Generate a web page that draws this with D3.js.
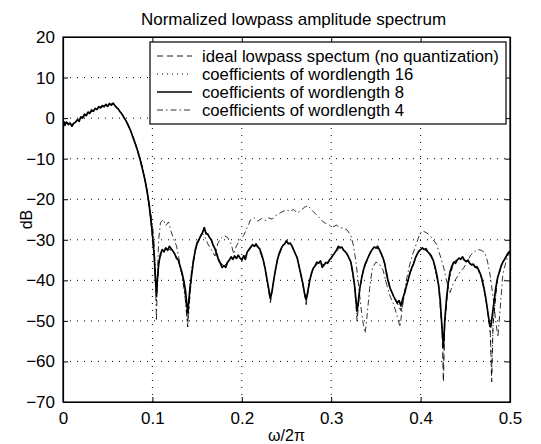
<!DOCTYPE html>
<html>
<head>
<meta charset="utf-8">
<script src="https://cdn.jsdelivr.net/npm/d3@7"></script>
<style>
body { margin: 0; background: #fff; }
text { font-family: "Liberation Sans", Arial, sans-serif; fill: #000; }
</style>
</head>
<body>
<svg id="chart"></svg>
<script>
// values: [omega/2pi, dB]
var wl8 = [
[0,-0.6],[0.002,-1.8],[0.004,-1.0],[0.006,-1.6],[0.008,-1.2],[0.010,-2.0],[0.012,-1.3],[0.014,-1.0],
[0.016,-0.4],[0.018,-0.8],[0.020,0.3],[0.022,0.0],[0.024,1.0],[0.026,0.6],[0.028,1.5],[0.030,1.2],
[0.032,2.0],[0.034,1.7],[0.036,2.4],[0.038,2.1],[0.040,2.8],[0.042,2.5],[0.044,3.1],[0.046,2.8],
[0.048,3.4],[0.050,2.9],[0.052,3.6],[0.054,3.2],[0.056,3.7],[0.058,3.1],[0.060,2.6],[0.062,2.2],
[0.064,1.5],[0.066,1.0],[0.068,0.2],[0.070,-0.5],[0.072,-1.3],[0.074,-2.3],[0.076,-3.3],[0.078,-4.6],
[0.080,-5.8],[0.082,-7.0],[0.084,-8.5],[0.086,-10.0],[0.088,-11.8],[0.090,-13.6],[0.092,-15.6],[0.094,-18.0],
[0.096,-20.8],[0.098,-24.5],[0.100,-28.5],[0.102,-34.0],[0.1035,-40.0],[0.1045,-43.5],[0.1055,-40.0],[0.107,-36.0],
[0.109,-33.5],[0.111,-32.4],[0.113,-33.0],[0.115,-32.0],[0.117,-32.6],[0.119,-31.6],[0.121,-32.2],[0.123,-32.8],
[0.125,-33.5],[0.127,-34.6],[0.129,-35.0],[0.131,-36.5],[0.133,-38.0],[0.135,-40.0],[0.137,-42.5],[0.1385,-46.0],
[0.1395,-48.0],[0.1405,-45.5],[0.142,-42.0],[0.144,-38.5],[0.146,-35.0],[0.148,-32.5],[0.150,-30.8],[0.152,-30.0],
[0.154,-29.0],[0.156,-28.3],[0.158,-27.0],[0.160,-28.5],[0.162,-28.6],[0.164,-29.5],[0.166,-30.0],[0.168,-31.4],
[0.170,-32.2],[0.172,-33.6],[0.174,-35.0],[0.176,-35.8],[0.178,-36.8],[0.180,-36.4],[0.182,-36.8],[0.184,-35.6],
[0.186,-35.0],[0.188,-34.2],[0.190,-34.8],[0.192,-34.0],[0.194,-34.6],[0.196,-33.8],[0.198,-34.5],[0.200,-35.0],
[0.202,-34.0],[0.204,-34.8],[0.206,-33.0],[0.208,-32.4],[0.210,-31.8],[0.212,-31.2],[0.214,-31.6],[0.216,-31.0],
[0.218,-31.8],[0.220,-32.2],[0.222,-33.5],[0.224,-35.0],[0.226,-37.0],[0.228,-39.5],[0.230,-42.0],[0.232,-44.5],
[0.234,-42.5],[0.236,-39.5],[0.238,-37.0],[0.240,-34.8],[0.242,-33.2],[0.244,-32.2],[0.246,-31.4],[0.248,-31.0],
[0.250,-30.2],[0.252,-31.0],[0.254,-30.8],[0.256,-31.5],[0.258,-32.5],[0.260,-33.5],[0.262,-34.5],[0.264,-36.5],
[0.266,-38.5],[0.268,-40.5],[0.270,-43.0],[0.272,-44.8],[0.274,-42.5],[0.276,-40.0],[0.278,-38.2],[0.280,-37.0],
[0.282,-36.4],[0.284,-35.5],[0.286,-35.8],[0.288,-35.2],[0.290,-36.8],[0.292,-36.2],[0.294,-35.6],[0.296,-35.8],
[0.298,-35.0],[0.300,-34.5],[0.302,-33.8],[0.304,-33.2],[0.306,-32.5],[0.308,-31.6],[0.310,-32.0],[0.312,-31.8],
[0.314,-32.6],[0.316,-33.0],[0.318,-33.6],[0.320,-34.5],[0.322,-35.5],[0.324,-38.0],[0.326,-41.0],[0.328,-45.5],
[0.329,-47.5],[0.330,-46.0],[0.332,-42.0],[0.334,-39.5],[0.336,-37.5],[0.338,-36.0],[0.340,-35.0],[0.342,-34.0],
[0.344,-33.0],[0.346,-32.4],[0.348,-31.8],[0.350,-32.0],[0.352,-31.6],[0.354,-32.5],[0.356,-33.4],[0.358,-34.5],
[0.360,-36.0],[0.362,-38.5],[0.364,-40.5],[0.366,-42.0],[0.368,-43.0],[0.370,-44.0],[0.372,-44.8],[0.374,-45.6],
[0.376,-45.0],[0.378,-46.3],[0.380,-44.5],[0.382,-43.2],[0.384,-41.5],[0.386,-40.0],[0.388,-38.2],[0.390,-37.0],
[0.392,-36.0],[0.394,-34.6],[0.396,-33.6],[0.398,-32.8],[0.400,-32.4],[0.402,-32.0],[0.404,-32.4],[0.406,-32.2],
[0.408,-33.0],[0.410,-33.4],[0.412,-34.0],[0.414,-35.0],[0.416,-36.5],[0.418,-38.5],[0.420,-41.0],[0.422,-45.0],
[0.424,-52.0],[0.4255,-56.5],[0.427,-50.0],[0.429,-44.5],[0.431,-40.5],[0.433,-37.8],[0.435,-36.5],[0.437,-35.5],
[0.439,-35.8],[0.441,-35.0],[0.443,-34.5],[0.445,-34.8],[0.447,-34.2],[0.449,-35.0],[0.451,-35.4],[0.453,-35.0],
[0.455,-35.8],[0.457,-36.2],[0.459,-36.0],[0.461,-36.8],[0.463,-36.6],[0.465,-37.5],[0.467,-38.5],[0.469,-40.0],
[0.471,-42.0],[0.473,-44.5],[0.475,-47.5],[0.477,-50.5],[0.4785,-51.5],[0.480,-49.0],[0.482,-45.5],[0.484,-42.0],
[0.486,-39.5],[0.488,-38.0],[0.490,-36.5],[0.492,-35.5],[0.494,-34.8],[0.496,-34.0],[0.498,-33.2],[0.500,-32.8]
]

var ideal = [
[0,-1.0],[0.010,-1.5],[0.020,0.0],[0.030,1.4],[0.040,2.6],[0.050,3.2],[0.056,3.5],[0.060,2.7],
[0.066,1.0],[0.070,-0.5],[0.076,-3.3],[0.080,-5.8],[0.086,-10.0],[0.090,-13.6],[0.094,-18.0],[0.098,-24.5],
[0.102,-34.0],[0.1045,-44.5],[0.107,-36.0],[0.111,-32.4],[0.117,-32.2],[0.123,-32.8],[0.129,-35.0],[0.135,-40.0],
[0.1395,-50.0],[0.144,-38.5],[0.148,-32.5],[0.154,-29.0],[0.158,-27.4],[0.164,-29.4],[0.170,-32.2],[0.176,-35.6],
[0.180,-36.6],[0.186,-35.0],[0.192,-34.2],[0.200,-34.8],[0.206,-33.2],[0.212,-31.4],[0.218,-31.6],[0.224,-35.0],
[0.228,-39.5],[0.232,-45.5],[0.236,-39.5],[0.240,-34.8],[0.246,-31.4],[0.250,-30.6],[0.256,-31.4],[0.262,-34.5],
[0.268,-40.5],[0.272,-46.0],[0.276,-40.0],[0.280,-37.0],[0.286,-35.6],[0.292,-36.2],[0.298,-35.0],[0.304,-33.2],
[0.310,-31.8],[0.316,-33.0],[0.322,-35.5],[0.326,-41.0],[0.329,-50.0],[0.332,-42.0],[0.336,-37.5],[0.342,-34.0],
[0.348,-31.8],[0.354,-32.4],[0.360,-36.0],[0.366,-42.0],[0.372,-45.0],[0.378,-47.5],[0.384,-41.5],[0.390,-37.0],
[0.396,-33.6],[0.402,-32.0],[0.408,-33.0],[0.414,-35.0],[0.420,-41.0],[0.424,-52.0],[0.4255,-65.0],[0.427,-51.0],
[0.431,-40.5],[0.437,-35.5],[0.443,-34.6],[0.449,-35.0],[0.455,-35.6],[0.461,-36.6],[0.467,-38.5],[0.473,-44.5],
[0.478,-53.0],[0.4795,-65.0],[0.481,-51.0],[0.486,-39.5],[0.492,-35.5],[0.500,-32.8]
]

var wl16 = [
[0,-0.9],[0.010,-1.6],[0.020,0.1],[0.030,1.3],[0.040,2.7],[0.050,3.1],[0.056,3.5],[0.060,2.8],
[0.066,1.0],[0.070,-0.5],[0.076,-3.3],[0.080,-5.8],[0.086,-10.0],[0.090,-13.6],[0.094,-18.0],[0.098,-24.5],
[0.102,-34.0],[0.1045,-45.5],[0.107,-36.0],[0.111,-32.4],[0.117,-32.2],[0.123,-32.8],[0.129,-35.0],[0.135,-40.0],
[0.1395,-51.5],[0.144,-38.5],[0.148,-32.5],[0.154,-29.0],[0.158,-27.4],[0.164,-29.4],[0.170,-32.2],[0.176,-35.6],
[0.180,-36.6],[0.186,-35.0],[0.192,-34.2],[0.200,-34.8],[0.206,-33.2],[0.212,-31.4],[0.218,-31.6],[0.224,-35.0],
[0.228,-39.5],[0.232,-45.0],[0.236,-39.5],[0.240,-34.8],[0.246,-31.4],[0.250,-30.6],[0.256,-31.4],[0.262,-34.5],
[0.268,-40.5],[0.272,-45.5],[0.276,-40.0],[0.280,-37.0],[0.286,-35.6],[0.292,-36.2],[0.298,-35.0],[0.304,-33.2],
[0.310,-31.8],[0.316,-33.0],[0.322,-35.5],[0.326,-41.0],[0.329,-49.0],[0.332,-42.0],[0.336,-37.5],[0.342,-34.0],
[0.348,-31.8],[0.354,-32.4],[0.360,-36.0],[0.366,-42.0],[0.372,-45.0],[0.378,-47.0],[0.384,-41.5],[0.390,-37.0],
[0.396,-33.6],[0.402,-32.0],[0.408,-33.0],[0.414,-35.0],[0.420,-41.0],[0.424,-52.0],[0.4255,-61.0],[0.427,-51.0],
[0.431,-40.5],[0.437,-35.5],[0.443,-34.6],[0.449,-35.0],[0.455,-35.6],[0.461,-36.6],[0.467,-38.5],[0.473,-44.5],
[0.478,-53.0],[0.4795,-63.0],[0.481,-51.0],[0.486,-39.5],[0.492,-35.5],[0.500,-32.8]
]

var wl4 = [
[0,-0.8],[0.010,-1.6],[0.020,0.2],[0.030,1.3],[0.040,2.7],[0.050,3.0],[0.056,3.6],[0.060,2.8],
[0.066,1.0],[0.070,-0.4],[0.076,-3.2],[0.080,-5.6],[0.086,-9.6],[0.090,-13.2],[0.094,-17.5],[0.098,-23.0],
[0.100,-26.0],[0.102,-31.0],[0.1035,-40.0],[0.1045,-50.0],[0.1055,-40.0],[0.107,-30.0],[0.109,-25.8],[0.112,-25.0],
[0.115,-26.5],[0.118,-25.6],[0.121,-28.0],[0.124,-30.0],[0.127,-31.5],[0.130,-35.0],[0.134,-40.0],[0.137,-45.0],
[0.1395,-51.5],[0.141,-45.0],[0.144,-37.0],[0.148,-32.5],[0.152,-30.0],[0.156,-28.5],[0.158,-29.0],[0.162,-31.0],
[0.166,-32.5],[0.170,-34.0],[0.173,-31.0],[0.176,-29.8],[0.180,-29.0],[0.184,-29.4],[0.188,-31.0],[0.191,-33.5],
[0.194,-31.5],[0.198,-30.0],[0.202,-29.0],[0.206,-27.0],[0.210,-25.0],[0.214,-24.6],[0.218,-25.4],[0.222,-24.8],
[0.226,-25.3],[0.230,-24.6],[0.234,-24.9],[0.238,-24.0],[0.242,-23.5],[0.246,-23.0],[0.250,-22.6],[0.254,-23.0],
[0.258,-22.5],[0.262,-23.4],[0.266,-22.8],[0.270,-22.0],[0.274,-21.6],[0.278,-22.6],[0.282,-23.5],[0.286,-24.4],
[0.290,-25.4],[0.294,-26.0],[0.298,-26.4],[0.302,-26.8],[0.306,-26.4],[0.310,-27.0],[0.314,-27.2],[0.318,-27.6],
[0.322,-29.0],[0.325,-31.5],[0.328,-36.0],[0.331,-42.0],[0.334,-48.0],[0.336,-51.0],[0.338,-53.0],[0.340,-49.0],
[0.343,-42.0],[0.346,-37.0],[0.350,-35.5],[0.354,-36.0],[0.358,-37.5],[0.362,-41.0],[0.366,-44.0],[0.370,-46.0],
[0.374,-49.0],[0.377,-51.5],[0.380,-46.0],[0.384,-40.0],[0.388,-36.0],[0.392,-33.0],[0.396,-30.5],[0.399,-28.6],
[0.402,-27.8],[0.406,-28.2],[0.410,-28.8],[0.414,-30.0],[0.418,-31.2],[0.422,-34.0],[0.426,-37.0],[0.430,-41.0],
[0.433,-43.0],[0.436,-41.0],[0.440,-39.5],[0.444,-38.0],[0.448,-37.0],[0.452,-35.5],[0.456,-33.8],[0.460,-33.0],
[0.464,-32.4],[0.468,-32.6],[0.472,-33.2],[0.475,-35.5],[0.478,-39.0],[0.481,-44.0],[0.484,-50.0],[0.4865,-54.0],
[0.489,-47.0],[0.492,-38.5],[0.496,-35.0],[0.500,-33.0]
]

var xTicks = [0, 0.1, 0.2, 0.3, 0.4, 0.5]
var yTicks = [20, 10, 0, -10, -20, -30, -40, -50, -60, -70]
var legendLabels = [
  "ideal lowpass spectum (no quantization)",
  "coefficients of wordlength 16",
  "coefficients of wordlength 8",
  "coefficients of wordlength 4"
]

var screen = { width: 541, height: 444 }
var margin = { left: 63, right: 31, top: 37, bottom: 42 }
var width = screen.width - margin.left - margin.right
var height = screen.height - margin.top - margin.bottom

var svg = d3.select("#chart")
  .attr("width", screen.width)
  .attr("height", screen.height)

var xScale = d3.scaleLinear().domain([0, 0.5]).range([0, width])
var yScale = d3.scaleLinear().domain([-70, 20]).range([height, 0])

var plot = svg.append("g")
  .attr("transform", "translate(" + margin.left + "," + margin.top + ")")

plot.append("clipPath").attr("id", "clip")
  .append("rect").attr("width", width).attr("height", height)

// dotted grid
plot.selectAll(".gx").data(xTicks.slice(1, -1)).enter().append("line")
  .attr("x1", function(d){ return xScale(d) }).attr("x2", function(d){ return xScale(d) })
  .attr("y1", 0).attr("y2", height)
  .attr("stroke", "#000").attr("stroke-width", 1).attr("stroke-dasharray", "1,6")
plot.selectAll(".gy").data(yTicks.slice(1, -1)).enter().append("line")
  .attr("x1", 0).attr("x2", width)
  .attr("y1", function(d){ return yScale(d) }).attr("y2", function(d){ return yScale(d) })
  .attr("stroke", "#000").attr("stroke-width", 1).attr("stroke-dasharray", "1,6")

var line = d3.line()
  .x(function(d){ return xScale(d[0]) })
  .y(function(d){ return yScale(d[1]) })

var series = [
  { data: ideal, dash: "6,4", w: 0.9 },
  { data: wl16, dash: "1,4", w: 1 },
  { data: wl8, dash: null, w: 1.7 },
  { data: wl4, dash: "6,3,1.5,3", w: 0.8 }
]

var lines = plot.append("g").attr("clip-path", "url(#clip)")
series.forEach(function(s){
  lines.append("path")
    .datum(s.data)
    .attr("d", line)
    .attr("fill", "none")
    .attr("stroke", "#000")
    .attr("stroke-width", s.w)
    .attr("stroke-linejoin", "round")
    .attr("stroke-dasharray", s.dash)
})

// axes, ticks pointing inward on all four sides
var fmtY = function(d){ return d < 0 ? "\u2212" + Math.abs(d) : d }
var xAxis = d3.axisBottom(xScale).tickValues(xTicks).tickSizeInner(-5).tickSizeOuter(0).tickPadding(10)
  .tickFormat(function(d){ return d === 0 ? "0" : d3.format(".1f")(d) })
var yAxis = d3.axisLeft(yScale).tickValues(yTicks).tickSizeInner(-5).tickSizeOuter(0).tickPadding(8)
  .tickFormat(fmtY)

plot.append("g").attr("transform", "translate(0," + height + ")").call(xAxis)
plot.append("g").call(yAxis)
plot.append("g").call(d3.axisTop(xScale).tickValues(xTicks).tickSizeInner(-5).tickSizeOuter(0).tickFormat(""))
plot.append("g").attr("transform", "translate(" + width + ",0)")
  .call(d3.axisRight(yScale).tickValues(yTicks).tickSizeInner(-5).tickSizeOuter(0).tickFormat(""))

plot.selectAll(".tick text").attr("font-size", 17).attr("font-family", "Liberation Sans, Arial, sans-serif")
plot.selectAll(".domain").attr("stroke", "#000").attr("stroke-width", 1.2)

plot.append("rect").attr("width", width).attr("height", height)
  .attr("fill", "none").attr("stroke", "#000").attr("stroke-width", 1.2)

// legend
var lg = svg.append("g").attr("transform", "translate(150,42)")
lg.append("rect").attr("width", 356).attr("height", 82)
  .attr("fill", "#fff").attr("stroke", "#000").attr("stroke-width", 1.2)
lg.selectAll(".sample").data(series).enter().append("line")
  .attr("x1", 7).attr("x2", 42)
  .attr("y1", function(d, i){ return 14 + i * 18 }).attr("y2", function(d, i){ return 14 + i * 18 })
  .attr("stroke", "#000")
  .attr("stroke-width", function(d){ return d.w })
  .attr("stroke-dasharray", function(d){ return d.dash })
lg.selectAll(".label").data(legendLabels).enter().append("text")
  .attr("x", 52)
  .attr("y", function(d, i){ return 20 + i * 18 })
  .attr("font-size", 16.7)
  .text(function(d){ return d })

svg.append("text")
  .attr("x", margin.left + width / 2 + 7).attr("y", 25)
  .attr("text-anchor", "middle").attr("font-size", 17)
  .text("Normalized lowpass amplitude spectrum")

svg.append("text")
  .attr("x", margin.left + width / 2).attr("y", 441)
  .attr("text-anchor", "middle").attr("font-size", 16)
  .text("\u03c9/2\u03c0")

svg.append("text")
  .attr("transform", "translate(32," + (margin.top + height / 2) + ") rotate(-90)")
  .attr("text-anchor", "middle").attr("font-size", 16)
  .text("dB")
</script>
</body>
</html>
